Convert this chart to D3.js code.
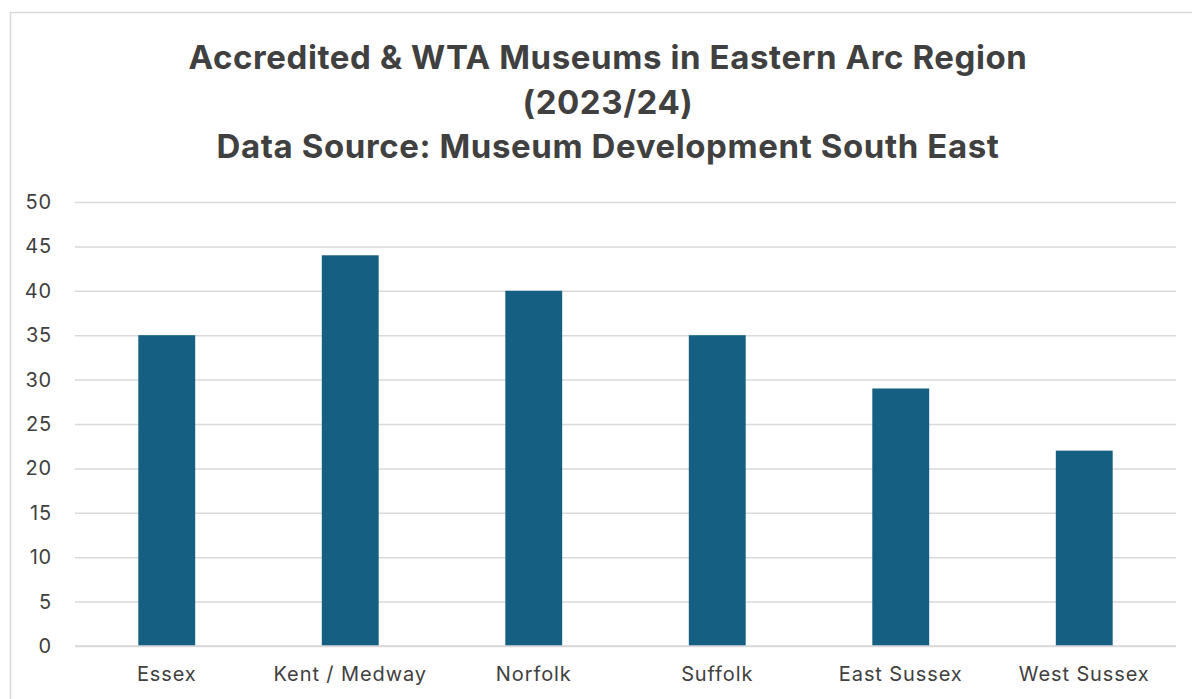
<!DOCTYPE html>
<html>
<head>
<meta charset="utf-8">
<script src="https://cdn.jsdelivr.net/npm/d3@7"></script>
<style>
  html, body { margin: 0; padding: 0; background: #fff; }
  svg { display: block; font-family: Inter, "Open Sans", sans-serif; }
</style>
</head>
<body>
<svg id="chart" width="1192" height="699"></svg>
<script>
// Museum counts per county
const categories = ["Essex", "Kent / Medway", "Norfolk", "Suffolk", "East Sussex", "West Sussex"];
const museumCounts = [35, 44, 40, 35, 29, 22];
const yTicks = [0, 5, 10, 15, 20, 25, 30, 35, 40, 45, 50];
const titleLines = [
  "Accredited & WTA Museums in Eastern Arc Region",
  "(2023/24)",
  "Data Source: Museum Development South East"
];

const svg = d3.select("#chart");
const W = 1192, H = 699;
const margin = { left: 75, right: 16, top: 202, bottom: 53 };

// Chart frame
svg.append("rect")
  .attr("x", 10.5).attr("y", 12.5)
  .attr("width", W + 20).attr("height", H + 20)
  .attr("fill", "#fff").attr("stroke", "#d9d9d9").attr("stroke-width", 1.5);

// Title
svg.append("g").selectAll("text").data(titleLines).join("text")
  .attr("x", 608).attr("y", (d, i) => 69 + i * 44.5)
  .attr("text-anchor", "middle")
  .attr("font-size", 33).attr("font-weight", 700)
  .attr("letter-spacing", 0.6)
  .attr("fill", "#404040")
  .text(d => d);

const x = d3.scaleBand().domain(categories)
  .range([margin.left, W - margin.right]).paddingInner(0.69).paddingOuter(0.345);
const y = d3.scaleLinear().domain([0, 50]).range([H - margin.bottom, margin.top]);

// Gridlines and y labels
const yAxis = svg.append("g")
  .attr("transform", `translate(${margin.left},0)`)
  .call(d3.axisLeft(y).tickValues(yTicks).tickSize(-(W - margin.left - margin.right)).tickPadding(23));
yAxis.select(".domain").remove();
yAxis.selectAll(".tick line").attr("stroke", "#d9d9d9").attr("stroke-width", 1.5);
yAxis.selectAll(".tick text").attr("font-size", 20).attr("fill", "#404040")
  .attr("letter-spacing", 0.8)
  .attr("font-family", "Inter, 'Open Sans', sans-serif");

// Bars
svg.append("g").selectAll("rect").data(categories).join("rect")
  .attr("x", d => x(d))
  .attr("width", x.bandwidth())
  .attr("y", (d, i) => y(museumCounts[i]))
  .attr("height", (d, i) => y(0) - y(museumCounts[i]))
  .attr("fill", "#156082");

// Baseline redrawn over bars
svg.append("line")
  .attr("x1", margin.left).attr("x2", W - margin.right)
  .attr("y1", y(0)).attr("y2", y(0))
  .attr("stroke", "#d9d9d9").attr("stroke-width", 1.5);

// Category labels
const xAxis = svg.append("g")
  .attr("transform", `translate(0,${y(0)})`)
  .call(d3.axisBottom(x).tickSize(0).tickPadding(21));
xAxis.select(".domain").remove();
xAxis.selectAll(".tick text").attr("font-size", 20).attr("fill", "#404040")
  .attr("letter-spacing", 0.9)
  .attr("font-family", "Inter, 'Open Sans', sans-serif");
</script>
</body>
</html>
